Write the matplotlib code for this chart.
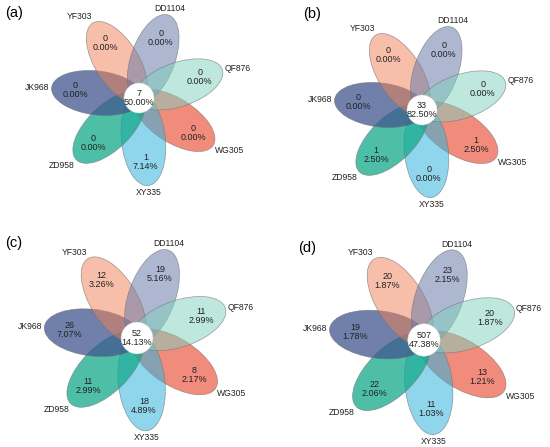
import numpy as np
import matplotlib
matplotlib.use("Agg")
import matplotlib.pyplot as plt
from matplotlib.patches import Ellipse, Circle
from matplotlib.colors import to_rgba

# ---------------- data ----------------
groups = ["XY335", "WG305", "QF876", "DD1104", "YF303", "JK968", "ZD958"]
panel_tags = ["(a)", "(b)", "(c)", "(d)"]

counts_a = [1, 0, 0, 0, 0, 0, 0]
pct_a = [7.14, 0.00, 0.00, 0.00, 0.00, 0.00, 0.00]
core_a = 7
core_pct_a = 50.00

counts_b = [0, 1, 0, 0, 0, 0, 1]
pct_b = [0.00, 2.50, 0.00, 0.00, 0.00, 0.00, 2.50]
core_b = 33
core_pct_b = 82.50

counts_c = [18, 8, 11, 19, 12, 26, 11]
pct_c = [4.89, 2.17, 2.99, 5.16, 3.26, 7.07, 2.99]
core_c = 52
core_pct_c = 14.13

counts_d = [11, 13, 20, 23, 20, 19, 22]
pct_d = [1.03, 1.21, 1.87, 2.15, 1.87, 1.78, 2.06]
core_d = 507
core_pct_d = 47.38

# ---------------- style ----------------
colors = ["#33B3DC", "#E93F26", "#7FD1BD", "#6C7CAA", "#F18155", "#40568E", "#12AA88"]
alphas = [0.55, 0.60, 0.50, 0.55, 0.50, 0.75, 0.75]
zorders = [1, 0, 6, 5, 4, 3, 2]
FONT = ["Liberation Sans", "DejaVu Sans"]

W, H = 550, 447
fig = plt.figure(figsize=(W / 100, H / 100), dpi=100)
ax = fig.add_axes([0, 0, 1, 1])
ax.set_xlim(0, W)
ax.set_ylim(0, H)
ax.axis("off")

# flower geometry (pixels at scale 1)
D, A, B, RC = 42.0, 46.0, 22.0, 15.0
NUM_F = 0.73
START, STEP = -84.0, 360.0 / 7

centers = [(139, 349), (422, 337), (137, 109), (424, 107)]
scales = [1.0, 1.0, 1.06, 1.08]
tag_pos = [(14, 434), (312, 433), (14, 204), (307, 199)]

panels = [
    (counts_a, pct_a, core_a, core_pct_a),
    (counts_b, pct_b, core_b, core_pct_b),
    (counts_c, pct_c, core_c, core_pct_c),
    (counts_d, pct_d, core_d, core_pct_d),
]

for p, (cnts, pcts, core, core_pct) in enumerate(panels):
    cx, cy = centers[p]
    s = scales[p]
    reach = (D + A) * s
    for i, g in enumerate(groups):
        ang = START + STEP * i
        c, sn = np.cos(np.radians(ang)), np.sin(np.radians(ang))
        ex, ey = cx + D * s * c, cy + D * s * sn
        e = Ellipse((ex, ey), 2 * A * s, 2 * B * s, angle=ang,
                    facecolor=to_rgba(colors[i], alphas[i]),
                    edgecolor=(0.45, 0.45, 0.45, 0.7), linewidth=0.5,
                    zorder=1 + zorders[i])
        ax.add_patch(e)
        # value text
        nr = NUM_F * reach
        ax.text(cx + nr * c, cy + nr * sn, f"{cnts[i]}\n{pcts[i]:.2f}%",
                ha="center", va="center", fontsize=6.5, family=FONT,
                color="#222222", linespacing=1.0, zorder=20)
        # group label
        lr = reach + 2
        ha = "left" if c > 0.5 else ("right" if c < -0.5 else "center")
        va = "bottom" if sn > 0.5 else ("top" if sn < -0.5 else "center")
        ax.text(cx + lr * c, cy + lr * sn, g, ha=ha, va=va, fontsize=6.2,
                family=FONT, color="#222222", zorder=20)
    ax.add_patch(Circle((cx, cy), RC * s, facecolor="white",
                        edgecolor=(0.85, 0.85, 0.85), linewidth=0.3, zorder=15))
    ax.text(cx, cy, f"{core}\n{core_pct:.2f}%", ha="center", va="center",
            fontsize=6.5, family=FONT, color="#222222", linespacing=1.0, zorder=21)
    tx, ty = tag_pos[p]
    ax.text(tx, ty, panel_tags[p], ha="center", va="center", fontsize=10.5,
            family=FONT, color="black", zorder=21)

fig.savefig("out.png", dpi=100)
